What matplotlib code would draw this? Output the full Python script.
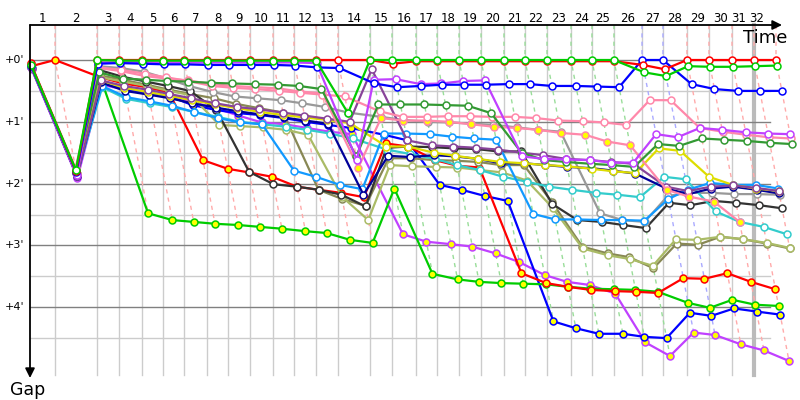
import matplotlib.pyplot as plt

# leader's elapsed time (minutes) at the end of each lap, index 0 = start
lap_times = [0.0, 2.14, 5.73, 7.61, 9.57, 11.37, 13.16, 15.13, 16.92, 18.80, 20.77,
             22.56, 24.44, 26.32, 29.06, 30.94, 32.99, 34.79, 36.67, 38.55, 40.51,
             42.31, 44.19, 46.24, 48.03, 49.91, 52.31, 54.10, 56.15, 58.03, 60.00,
             61.88, 63.76]
lap_labels = [str(i) for i in range(1, 33)]
gap_ticks = [0, 1, 2, 3, 4]
gap_tick_labels = ["+0'", "+1'", "+2'", "+3'", "+4'"]

# gap to the leader (minutes) at the end of each lap, from lap 0
red_1 = [0.05, 1.8, 0, 0, 0, 0, 0, 0, 0, 0, 0, 0, 0, 0,
         0, 0.06, 0.02, 0.02, 0.02, 0.02, 0.02, 0.02, 0.02, 0.02, 0.02, 0.02,
         0.08, 0.15, 0, 0, 0, 0, 0]
green_1 = [0.08, 1.78, 0, 0.01, 0.01, 0.01, 0.01, 0.01, 0.01, 0.01, 0.01, 0.01, 0.01, 0.86,
           0, 0, 0, 0, 0, 0, 0, 0, 0, 0, 0, 0,
           0.2, 0.26, 0.1, 0.11, 0.11, 0.1, 0.09]
blue_1 = [0.1, 1.82, 0.06, 0.05, 0.06, 0.07, 0.07, 0.08, 0.08, 0.08, 0.08, 0.09, 0.12, 0.13,
          0.38, 0.44, 0.42, 0.4, 0.4, 0.4, 0.39, 0.39, 0.42, 0.42, 0.43, 0.44,
          0, 0, 0.39, 0.47, 0.5, 0.5, 0.5]
violet_1 = [0.12, 1.86, 0.04, 0.04, 0.04, 0.04, 0.04, 0.04, 0.04, 0.04, 0.04, 0.04, 0.05, 1.62,
            0.32, 0.31, 0.39, 0.38, 0.34, 0.33, 1.56, 1.6, 1.61, 1.62, 1.66, 1.66,
            1.2, 1.25, 1.1, 1.13, 1.17, 1.19, 1.2]
pink_1 = [0.08, 1.84, 0.12, 0.16, 0.22, 0.28, 0.34, 0.42, 0.45, 0.47, 0.5, 0.53, 0.56, 0.59,
          0.83, 0.92, 0.92, 0.91, 0.91, 0.92, 0.92, 0.94, 0.98, 0.99, 1.01, 1.05,
          0.65, 0.65, 1.1, 1.16, 1.21, 1.25, 1.27]
pink_2 = [0.06, 1.75, 0.13, 0.18, 0.26, 0.3, 0.33, 0.39, 0.42, 0.44, 0.46, 0.51, 0.54, 1.74,
          0.94, 0.98, 0.98, 1.0, 1.04, 1.08, 1.1, 1.13, 1.18, 1.21, 1.32, 1.38,
          2.1, 2.21, 2.29, 2.62]
dark_green = [0.1, 1.8, 0.2, 0.3, 0.32, 0.34, 0.35, 0.37, 0.38, 0.39, 0.4, 0.42, 0.47, 1.56,
              0.72, 0.72, 0.72, 0.73, 0.74, 0.86, 1.5, 1.62, 1.65, 1.68, 1.7, 1.73,
              1.36, 1.39, 1.27, 1.29, 1.31, 1.34, 1.36]
grey = [0.07, 1.82, 0.1, 0.13, 0.19, 0.3, 0.42, 0.52, 0.59, 0.62, 0.65, 0.7, 0.76, 0.85,
        0.92, 0.97, 1.0, 1.01, 1.03, 1.05, 1.09, 1.13, 1.16, 2.48, 2.59, 2.62,
        2.2, 2.15, 2.15, 2.17, 2.17, 2.18]
black = [0.09, 1.83, 0.16, 0.27, 0.35, 0.42, 0.5, 0.81, 1.81, 2.01, 2.05, 2.1, 2.18, 2.37,
         1.42, 1.4, 1.41, 1.43, 1.44, 1.48, 1.48, 2.33, 2.59, 2.62, 2.67, 2.72,
         2.31, 2.35, 2.28, 2.31, 2.35, 2.4]
green_2 = [0.1, 1.8, 0.28, 2.48, 2.59, 2.62, 2.65, 2.67, 2.7, 2.73, 2.77, 2.8, 2.91, 2.96,
           2.08, 3.46, 3.55, 3.59, 3.61, 3.62, 3.63, 3.67, 3.7, 3.71, 3.72, 3.75,
           3.93, 4.01, 3.88, 3.96, 3.98]
red_2 = [0.1, 0.0, 0.28, 0.38, 0.44, 0.53, 1.62, 1.76, 1.82, 1.89, 2.05, 2.1, 2.15, 2.22,
         1.35, 1.4, 1.62, 1.71, 1.74, 3.45, 3.61, 3.67, 3.72, 3.74, 3.75, 3.77,
         3.53, 3.54, 3.45, 3.59, 3.71]
blue_2 = [0.12, 1.87, 0.38, 0.47, 0.53, 0.59, 0.73, 0.81, 0.86, 0.89, 0.94, 1.0, 1.05, 1.1,
          1.21, 1.3, 2.02, 2.1, 2.2, 2.28, 4.23, 4.34, 4.43, 4.43, 4.48, 4.5,
          4.09, 4.14, 4.02, 4.07, 4.12]
violet_2 = [0.15, 1.91, 0.4, 0.48, 0.53, 0.59, 0.68, 0.78, 0.9, 1.01, 1.04, 1.1, 1.16, 1.2,
            2.82, 2.94, 2.98, 3.02, 3.13, 3.27, 3.48, 3.59, 3.64, 3.78, 4.57, 4.79,
            4.41, 4.45, 4.6, 4.7, 4.87]
light_blue = [0.11, 1.85, 0.42, 0.6, 0.67, 0.74, 0.84, 0.94, 1.01, 1.04, 1.79, 1.89, 2.02, 2.09,
              1.19, 1.19, 1.2, 1.24, 1.27, 1.29, 2.49, 2.58, 2.58, 2.59, 2.59, 2.6,
              2.25, 2.1, 1.99, 2.02, 2.02, 2.08]
cyan = [0.13, 1.86, 0.44, 0.63, 0.7, 0.76, 0.84, 0.92, 1.0, 1.04, 1.08, 1.13, 1.19, 1.27,
        1.45, 1.52, 1.6, 1.7, 1.78, 1.89, 1.97, 2.05, 2.1, 2.15, 2.18, 2.22,
        1.89, 1.93, 2.45, 2.62, 2.7, 2.82]
olive = [0.09, 1.84, 0.25, 0.32, 0.4, 0.48, 0.55, 0.62, 0.71, 0.78, 0.85, 2.1, 2.25, 2.36,
         1.59, 1.59, 1.62, 1.63, 1.65, 1.7, 1.7, 2.3, 3.02, 3.13, 3.19, 3.37,
         2.97, 2.99, 2.86, 2.9, 2.97, 3.05]
light_olive = [0.11, 1.85, 0.28, 0.35, 0.42, 0.5, 0.57, 1.05, 1.07, 1.09, 1.13, 1.21, 2.21, 2.59,
               1.7, 1.72, 1.73, 1.74, 1.78, 1.82, 1.95, 2.4, 3.05, 3.16, 3.22, 3.33,
               2.9, 2.91, 2.86, 2.9, 2.96, 3.04]
navy = [0.1, 1.87, 0.36, 0.5, 0.56, 0.62, 0.7, 0.77, 0.83, 0.88, 0.93, 0.98, 1.03, 2.18,
        1.55, 1.57, 1.54, 1.56, 1.6, 1.67, 1.67, 1.7, 1.73, 1.75, 1.79, 1.84,
        2.08, 2.17, 2.08, 2.05, 2.1, 2.16]
yellow = [0.12, 1.85, 0.33, 0.45, 0.52, 0.58, 0.65, 0.72, 0.78, 0.84, 0.89, 0.93, 0.97, 1.02,
          1.4, 1.4, 1.5, 1.55, 1.6, 1.65, 1.67, 1.7, 1.72, 1.76, 1.8, 1.83,
          1.43, 1.47, 1.89, 2.02, 2.08, 2.12]
dark_purple = [0.13, 1.88, 0.33, 0.42, 0.48, 0.55, 0.62, 0.7, 0.76, 0.8, 0.85, 0.9, 0.95, 1.0,
               0.15, 1.3, 1.38, 1.4, 1.42, 1.45, 1.5, 1.54, 1.6, 1.62, 1.65, 1.68,
               2.05, 2.12, 2.05, 2.03, 2.07, 2.12]

# (gaps, colour, yellow marker fill)
drivers = [
    (violet_2, '#c040ff', True), (blue_2, '#0000ff', True), (green_2, '#00cc00', True),
    (red_2, '#ff0000', True), (olive, '#888855', False), (light_olive, '#aabb66', False),
    (black, '#333333', False), (grey, '#999999', False), (cyan, '#33cccc', False),
    (light_blue, '#1199ff', False), (navy, '#000099', False), (yellow, '#dddd00', False),
    (dark_purple, '#884499', False), (pink_2, '#ff88aa', True), (pink_1, '#ff88aa', False),
    (dark_green, '#339933', False), (violet_1, '#c040ff', False), (blue_1, '#0000ff', False),
    (red_1, '#ff0000', False), (green_1, '#00cc00', False),
]

px_x = 11.7   # pixels per minute, horizontal
px_y = 61.8   # pixels per minute, vertical
fig = plt.figure(figsize=(8, 4), dpi=100)
ax = fig.add_axes([0, 0, 1, 1])
ax.set_xlim(-30 / px_x, 770 / px_x)
ax.set_ylim(340 / px_y, -60 / px_y)
ax.axis('off')

top = -35 / px_y
x_end = 740 / px_x
bottom = 315 / px_y

# grid
for g in [0.5, 1.5, 2.5, 3.5, 4.5]:
    ax.plot([0, x_end], [g, g], color='#cccccc', lw=1, zorder=1)
for g in gap_ticks:
    ax.plot([0, x_end], [g, g], color='#808080', lw=1, zorder=1.2)
for k in range(1, 32):
    t = lap_times[k]
    ax.plot([t, t], [top, bottom], color='#bbbbbb' if k == 31 else '#cccccc',
            lw=3 if k == 31 else 1, zorder=1)

# lap lines (dashed)
for k in range(1, 33):
    t = lap_times[k]
    gmax = max(d[0][k] for d in drivers if len(d[0]) > k)
    if 14 <= k <= 25:
        c = '#99dd99'
    elif k in (26, 27):
        c = '#aaaaff'
    else:
        c = '#ffaaaa'
    ax.plot([t, t, t + gmax], [top, 0, gmax], color=c, lw=1, ls=(0, (3, 3)), zorder=1.5)

# drivers
for gaps, c, filled in drivers:
    xs = [lap_times[i] + g for i, g in enumerate(gaps)]
    ax.plot(xs, gaps, '-o', color=c, lw=1.6, ms=5, mew=1.1, mec=c,
            mfc='#ffff00' if filled else 'white', zorder=3)

# axes with arrows
ax.annotate('', xy=(752 / px_x, top), xytext=(0, top),
            arrowprops=dict(arrowstyle='-|>', color='black', lw=1.3, mutation_scale=14,
                            shrinkA=0, shrinkB=0), zorder=5)
ax.annotate('', xy=(0, 318 / px_y), xytext=(0, top),
            arrowprops=dict(arrowstyle='-|>', color='black', lw=1.3, mutation_scale=14,
                            shrinkA=0, shrinkB=0), zorder=5)
ax.text(735 / px_x, -22 / px_y, 'Time', fontsize=13, ha='center', va='center')
ax.text(-2 / px_x, 330 / px_y, 'Gap', fontsize=12.5, ha='center', va='center')

for g, lab in zip(gap_ticks, gap_tick_labels):
    ax.text(-15 / px_x, g, lab, fontsize=8, ha='center', va='center')
for k, lab in enumerate(lap_labels, start=1):
    mid = (lap_times[k - 1] + lap_times[k]) / 2
    if k == 31:
        mid -= 0.35
    elif k == 32:
        mid = lap_times[31] + 0.2
    ax.text(mid, -41 / px_y, lab, fontsize=8.5, ha='center', va='center')

fig.savefig('out.png', dpi=100)
